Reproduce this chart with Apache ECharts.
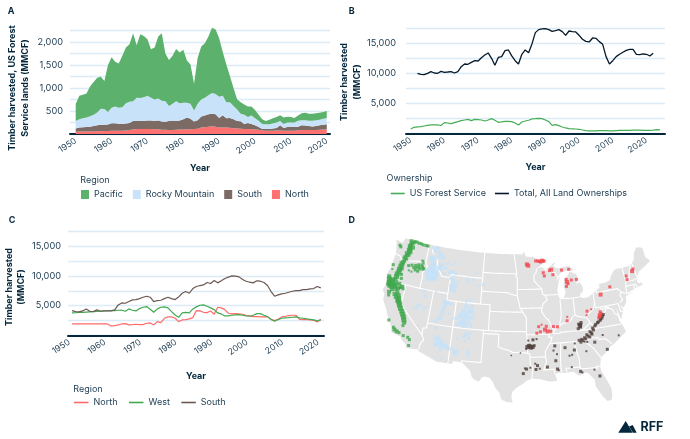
<!DOCTYPE html>
<html>
<head>
<meta charset="utf-8">
<style>html,body{margin:0;padding:0;background:#fff}#main{width:690px;height:439px}</style>
<script src="https://cdn.jsdelivr.net/npm/echarts@6/dist/echarts.min.js"></script>
</head>
<body>
<div id="main"></div>
<script>
// panel A, US Forest Service harvest by region, 1950-2020 (MMCF)
var yearsA = [];
for (var y = 1950; y <= 2020; y++) yearsA.push(y);
var pacific = [370,510,515,520,645,710,750,695,605,1020,
  1100,970,960,1120,1210,1250,1480,1140,1390,1330,
  1230,1050,1130,1350,1470,1040,1000,1040,1140,1100,
  1150,920,850,580,990,1150,1180,1280,1420,1400,
  1270,950,820,570,390,225,250,220,230,200,
  180,130,100,70,100,110,120,130,140,125,
  120,100,110,150,160,150,150,150,150,150,150];
var rockyMountain = [160,180,195,210,225,245,280,350,345,275,
  335,365,345,360,440,460,430,500,500,520,
  535,495,470,475,450,445,330,375,425,375,
  360,320,330,240,360,370,390,410,450,440,
  460,420,350,340,290,245,165,205,130,185,
  150,140,110,100,100,110,120,90,90,100,
  95,100,130,110,115,115,125,125,120,130,140];
var southA = [70,88,92,96,104,117,130,138,136,139,
  165,165,155,148,152,155,180,180,172,172,
  185,185,175,190,175,175,195,200,190,195,
  220,255,225,160,185,240,255,275,270,270,
  210,270,200,215,195,165,160,105,130,110,
  90,60,35,40,40,48,55,115,62,82,
  85,78,80,105,100,90,80,87,98,102,110];
var northA = [50,52,53,54,56,58,60,62,64,66,
  70,70,70,72,78,85,100,110,108,108,
  110,110,105,105,95,90,85,85,95,100,
  100,105,105,110,115,140,145,155,170,160,
  140,140,140,135,125,120,115,110,110,105,
  100,90,75,70,70,72,75,75,68,68,
  70,72,80,85,85,85,85,88,92,98,100];

// panel B, all ownerships 1952-2022 and Forest Service 1950-2024
var yearsTotal = [];
for (var y = 1952; y <= 2022; y++) yearsTotal.push(y);
var totalAll = [10000,9830,9780,10000,10280,10050,10000,10330,10170,10220,
  10280,10050,10280,11100,11550,11500,11830,12100,12050,12600,
  13050,13390,12500,11330,12650,12780,13780,13890,12900,12100,
  11550,13170,13890,13440,14900,16780,17280,17390,17440,17280,
  17000,17110,17280,16940,16330,17050,16940,16890,16330,15670,
  15330,15220,15890,15830,15280,14830,12780,11550,12100,12780,
  13170,13500,13830,14000,14000,13170,13110,13220,13170,12890,13330];
var yearsFs = [];
for (var y = 1950; y <= 2024; y++) yearsFs.push(y);
var forestService = [720,1000,1055,1110,1220,1330,1390,1420,1400,1300,
  1780,1720,1610,1780,1940,2110,2220,2330,2110,2330,
  2280,2220,2050,2220,2440,2170,1830,1890,2000,2000,
  1940,1720,1390,1890,2050,2170,2390,2440,2500,2440,
  2220,1940,1330,1440,1280,1050,890,780,750,720,
  670,555,440,390,390,420,440,440,440,420,
  420,460,500,500,500,500,520,540,520,500,
  480,500,540,600,560];

// panel C, all ownerships by region, 1952-2022
var yearsC = yearsTotal;
var northC = [1910,1910,1910,1910,1910,1910,1910,1910,1910,1910,1910,
  1580,1630,1750,1910,1970,1750,1800,1860,1800,1800,2030,2080,1750,2310,2140,
  2870,3100,3100,2870,2310,2590,2650,2760,2980,4170,4110,3880,3830,4110,
  3550,4730,4620,4330,3720,3600,3660,3600,3550,3380,3270,3150,3150,3100,3100,
  3150,2700,2480,2700,3100,3210,3320,3380,3380,2700,2650,2650,2590,2530,2250,2650];
var westC = [3770,3800,3850,3880,3920,3960,4000,4030,4060,4100,4140,4160,4170,
  4220,4230,4050,4450,4220,4110,4500,4730,4840,4390,3880,4450,4730,4790,4620,4000,
  3430,3040,3770,3880,3770,4450,4790,5070,5120,4900,4620,4330,3770,3600,3270,3270,
  3380,3430,3490,3380,3270,3210,3380,3660,3660,3380,3150,2650,2360,2650,2870,2930,
  2980,3040,3100,2930,2870,2760,2700,2590,2420,2650];
var southC = [4170,4000,3940,4110,4450,4050,4000,4280,4050,4110,4110,4110,4280,
  5120,5460,5400,5690,5970,6020,6190,6420,6590,6420,5690,5860,5910,6190,6420,6190,6020,
  6470,7090,7380,7090,7880,8220,8390,8500,8900,8730,9230,8840,9180,9570,9800,10020,
  9970,9850,9400,9120,8950,8840,9180,9120,8900,8390,7380,6590,6810,6980,7090,7260,
  7430,7540,7540,7710,7710,7830,7880,8220,7990];

// tick values
var xTicks = [1950,1960,1970,1980,1990,2000,2010,2020];
var yLabelsA = [500,1000,1500,2000];
var yLinesA = [0,250,500,750,1000,1250,1500,1750,2000,2250];
var yLabelsBC = [5000,10000,15000];
var yLinesBC = [0,2500,5000,7500,10000,12500,15000,17500];

// panel D, coast and national border of the lower 48, lon/lat
var usOutline = [[-124.7,48.4],[-123.2,48.15],[-122.8,49],[-95.15,49],[-95.15,49.38],[-94.8,49.3],[-94.6,48.7],[-93.8,48.55],[-92.9,48.6],[-92,48.3],[-91.4,48.07],[-90.8,48.2],[-89.6,48],[-90.9,47.3],[-92.1,46.75],[-91,46.9],[-90.4,46.55],[-89,46.9],[-88.4,47.4],[-87.8,47.45],[-88.4,46.9],[-87.4,46.5],[-86,46.65],[-85,46.75],[-84.5,46.45],[-84.1,46.2],[-84,46],[-84.7,45.95],[-85.5,46.05],[-86.5,45.85],[-87,45.7],[-87.6,45.1],[-88,44.55],[-87,45.3],[-87.5,44.4],[-87.8,43.5],[-87.9,43],[-87.8,42.3],[-87.5,41.7],[-87,41.7],[-86.5,42.1],[-86.2,42.8],[-86.5,43.6],[-86.2,44.7],[-85.6,45],[-85,45.7],[-84.7,45.78],[-83.5,45.35],[-83.3,44.9],[-83.4,44.2],[-83.9,43.7],[-83,44.05],[-82.5,43.3],[-82.5,42.6],[-83.1,42.2],[-83.4,41.75],[-82.7,41.5],[-81.7,41.5],[-80.5,42],[-79,42.7],[-78.9,43],[-79.05,43.27],[-77.5,43.3],[-76.5,43.5],[-76.2,44],[-75.3,44.85],[-74.7,45],[-71.5,45],[-71.1,45.3],[-70.8,45.4],[-70.3,45.9],[-70,46.7],[-69.2,47.45],[-68.3,47.35],[-67.8,47.07],[-67.8,45.7],[-67,44.85],[-68.5,44.3],[-70,43.75],[-70.7,43.05],[-70.8,42.6],[-71,42.3],[-70.6,41.95],[-70,42.05],[-70,41.65],[-71.2,41.5],[-72,41.3],[-73.6,41],[-74,40.75],[-72,41],[-74,40.55],[-74.1,39.7],[-74.9,38.95],[-75.5,39.45],[-75.1,38.6],[-75.9,37.2],[-76.2,38.3],[-76.4,39.2],[-76.4,38],[-76.3,37],[-75.95,36.6],[-75.5,35.25],[-76.6,34.65],[-77.9,33.9],[-79,33.4],[-80,32.6],[-81,32],[-81.4,30.7],[-81.3,29.8],[-80.6,28.4],[-80.05,26.9],[-80.15,25.7],[-80.4,25.2],[-81.1,25.15],[-81.8,26.1],[-82.7,27.7],[-82.7,28.7],[-83.7,29.9],[-84.3,30.05],[-85.3,29.65],[-86.3,30.38],[-87.5,30.3],[-88,30.3],[-89,30.4],[-89.6,30.2],[-89.3,29.2],[-90.2,29.1],[-91.3,29.3],[-92.2,29.55],[-93.8,29.7],[-94.7,29.4],[-95.4,28.9],[-96.5,28.3],[-97.2,27.7],[-97.4,26.9],[-97.15,25.95],[-98.2,26.05],[-99.1,26.4],[-99.5,27.5],[-100.3,28.3],[-100.7,29.1],[-101.4,29.75],[-102.3,29.88],[-102.7,29.7],[-103.15,28.98],[-104,29.3],[-104.5,29.65],[-104.9,30.6],[-106.5,31.75],[-108.2,31.78],[-108.2,31.33],[-111.07,31.33],[-114.8,32.5],[-114.72,32.72],[-117.12,32.53],[-117.3,33.1],[-118.4,33.75],[-118.5,34.03],[-119.2,34.15],[-120.5,34.45],[-120.65,35.15],[-121.9,36.6],[-122.5,37.5],[-122.9,38],[-123.7,38.9],[-123.8,39.8],[-124.4,40.4],[-124.1,41],[-124.2,42],[-124.5,42.85],[-124.1,44],[-123.95,46.2],[-124.1,46.9],[-124.7,48.4]];

// state borders, lon/lat
var stateBorders = [
  [[-117.04,49],[-117.04,46.42],[-116.92,46],[-116.46,45.6],[-116.85,44.95],[-117.2,44.4],[-117.03,43.8],[-117.03,42]],
  [[-124,46.25],[-122.9,46.1],[-122.3,45.55],[-121.2,45.65],[-119.3,45.93],[-118.98,46],[-116.92,46]],
  [[-124.2,42],[-111.05,42]],
  [[-120,42],[-120,39],[-114.63,35],[-114.14,34.3],[-114.5,33.9],[-114.72,33.4],[-114.72,32.72]],
  [[-114.05,42],[-114.05,36.2],[-114.75,36.1],[-114.63,35]],
  [[-116.05,49],[-116.05,48],[-114.5,46.7],[-114.35,45.5],[-113.45,45.05],[-113,44.5],[-111.05,44.5]],
  [[-111.05,45],[-111.05,41],[-104.05,41]],
  [[-111.05,45],[-104.05,45]],
  [[-109.05,41],[-109.05,31.33]],
  [[-114.05,37],[-94.62,37]],
  [[-104.05,41],[-102.05,41],[-102.05,37]],
  [[-103,37],[-103.04,32],[-106.6,32],[-106.5,31.75]],
  [[-103,36.5],[-100,36.5],[-100,34.56],[-99.2,34.3],[-98.1,34.1],[-97.2,33.75],[-96,33.8],[-94.48,33.64]],
  [[-104.05,49],[-104.05,41]],
  [[-104.05,45.94],[-96.56,45.94]],
  [[-104.05,43],[-98.5,43],[-97.9,42.8],[-96.45,42.5]],
  [[-102.05,40],[-95.3,40]],
  [[-97.23,49],[-96.8,47],[-96.56,45.94],[-96.85,45.6],[-96.45,45.3],[-96.45,42.5],[-96.1,41.5],[-95.85,40.6],[-95.3,40],[-94.6,39.1],[-94.62,36.5]],
  [[-96.45,43.5],[-91.22,43.5]],
  [[-95.77,40.58],[-91.73,40.6],[-91.42,40.38]],
  [[-92.1,46.75],[-92.3,46.1],[-92.85,45.6],[-92.75,44.75],[-91.22,43.5],[-91.1,42.7],[-90.64,42.5],[-90.15,41.8],[-91.1,41.2],[-91.42,40.38],[-91.5,40],[-90.7,39],[-90.2,38.7],[-89.5,37.3],[-89.15,37],[-89.5,36.5]],
  [[-94.62,36.5],[-90.15,36.5],[-90.37,36],[-89.7,36],[-90.1,35.1],[-90.6,34.6],[-91.1,33.9],[-91.17,33],[-91,32.3],[-91.6,31],[-89.75,31],[-89.6,30.2]],
  [[-94.62,36.5],[-94.43,35.4],[-94.48,33.64],[-94.04,33.55],[-94.04,32],[-93.55,31.2],[-93.8,29.7]],
  [[-94.04,33.02],[-91.17,33]],
  [[-88.15,35],[-88.47,31.9],[-88.4,30.3]],
  [[-90.3,35],[-83.1,35],[-83.35,34.7],[-82,33.5],[-81.4,32.6],[-81,32]],
  [[-89.5,36.5],[-88.05,36.5],[-88.05,36.65],[-83.68,36.6],[-81.68,36.59],[-75.9,36.55]],
  [[-81.68,36.59],[-82,36.1],[-83.1,35.75],[-84.32,34.99]],
  [[-85.6,35],[-85.18,32.87],[-85,32.3],[-85,31],[-84.86,30.7],[-82.2,30.57],[-82.05,30.36],[-82,30.75],[-81.45,30.7]],
  [[-87.6,31],[-85,31]],
  [[-87.6,31],[-87.45,30.4]],
  [[-83.1,35],[-82.3,35.2],[-81,35.15],[-80.8,34.82],[-79.67,34.8],[-78.55,33.86]],
  [[-89.15,37],[-88.1,37.5],[-87.5,37.95],[-86.5,38],[-85.8,38.25],[-85.4,38.73],[-84.8,39.1],[-84.3,38.8],[-83.3,38.6],[-82.6,38.42],[-82,39],[-81.2,39.4],[-80.75,40],[-80.52,40.64]],
  [[-87.53,41.7],[-87.53,39.3],[-88.05,37.8]],
  [[-84.8,41.7],[-84.8,39.1]],
  [[-86.8,41.76],[-84.8,41.7],[-83.45,41.73]],
  [[-90.64,42.5],[-87.8,42.5]],
  [[-90.4,46.55],[-88.1,45.9],[-87.6,45.1]],
  [[-80.52,42],[-80.52,39.72],[-75.8,39.72]],
  [[-79.76,42.27],[-79.76,42],[-75.35,42],[-74.7,41.36],[-75.1,40.9],[-74.75,40.2],[-75.4,39.8]],
  [[-79.48,39.72],[-79.48,39.2],[-78.4,39.6],[-77.75,39.3],[-77.05,38.85],[-76.95,38.3],[-76.3,37.95]],
  [[-83.68,36.6],[-81.97,37.54],[-82.6,38.42]],
  [[-81.97,37.54],[-81.65,37.2],[-80.3,37.5],[-79.3,38.4],[-78.35,39.4],[-77.75,39.3]],
  [[-75.8,39.72],[-75.7,38.46],[-75.05,38.45]],
  [[-74.7,41.36],[-73.9,41]],
  [[-73.65,41],[-73.5,42.05],[-73.27,42.75],[-73.35,45]],
  [[-72.55,42.73],[-72.1,44],[-71.5,45]],
  [[-73.27,42.75],[-71.3,42.7],[-70.8,42.87]],
  [[-73.5,42.05],[-71.38,42.02],[-71.2,41.5]],
  [[-71.8,42.02],[-71.85,41.32]],
  [[-70.7,43.07],[-71.05,45.3]]
];

// national forest patches by region, lon, lat, size
var pacificForests = [[-123.6,47.7,3],[-123.3,47.5,3],[-121.3,48.8,4],[-121,48.5,4],[-120.6,48.7,3],[-121.2,48.2,4],[-120.6,47.9,4],[-121.4,48,4],[-121.2,47.7,4],[-121.4,47.4,4],[-120.9,47.1,4],[-121.2,47.1,4],[-121.6,46.8,4],[-121,46.6,3],[-121.4,46.5,4],[-121.7,46.2,4],[-121.3,45.9,3],[-121.8,45.9,4],[-121.6,45.5,3],[-120.5,48.9,3],[-120,48.9,3],[-119.5,48.8,3],[-119,48.8,3],[-118.5,48.7,3],[-117.8,48.7,3],[-117.3,48.7,3],[-120.9,47.5,3],[-118.2,45.2,3],[-118.7,45,3],[-119.3,44.9,3],[-118.3,44.5,3],[-117.5,45.3,3],[-117.3,45,3],[-119.6,44.2,2],[-120.2,44.3,2],[-117.7,46.2,3],[-120.5,45,3],[-119.8,45.2,3],[-119,45.3,3],[-118.4,45.5,3],[-117.7,45.6,3],[-117.1,45.1,3],[-118.9,44.6,3],[-118,44.9,3],[-117.4,45.9,2],[-121.9,45.3,4],[-122,45,5],[-122.1,44.6,5],[-121.8,44.3,4],[-122.2,44.1,5],[-122.2,43.7,5],[-122.4,43.3,5],[-122.4,42.9,5],[-122.5,42.5,4],[-121.5,43.4,3],[-121.3,42.8,3],[-123.8,44.5,3],[-123.7,43.8,2],[-123.9,42.6,4],[-123.7,42.2,5],[-123.3,42,5],[-123,42.2,5],[-122.2,41.9,5],[-121.4,41.9,4],[-120.7,41.6,4],[-123.5,41.7,5],[-123.1,41.5,5],[-122.4,41.5,5],[-122.8,41.2,5],[-123.3,41.2,4],[-123.6,41.4,4],[-121.4,41.2,4],[-122.5,40.8,4],[-123,40.3,4],[-122.9,39.8,3],[-122.1,41.3,4],[-121.7,41,4],[-121,41.4,3],[-120.4,41.3,3],[-121.3,40.5,4],[-121.8,40.2,4],[-121.4,39.8,4],[-121,40.1,5],[-120.8,39.7,5],[-120.9,39.3,4],[-120.6,39.3,5],[-120.4,39,5],[-120.2,38.7,5],[-119.9,38.3,5],[-119.5,37.9,5],[-119.2,37.5,5],[-118.9,37.1,5],[-118.7,36.7,5],[-118.5,36.3,4],[-118.6,35.8,3],[-120.3,35.2,3],[-120,34.9,4],[-119.5,34.7,4],[-119,34.6,3],[-121.5,36.1,3],[-118.1,34.3,3],[-117.2,34.2,3],[-116.8,33.9,3],[-116.7,33,3]];
var rockyForests = [[-116,48.6,3],[-115.5,48.2,3],[-115,48.6,4],[-114.5,48,4],[-114.2,47.5,4],[-113.7,47.8,3],[-113.3,47.4,4],[-115.9,47,4],[-115.4,47.4,3],[-115,47,3],[-115.5,46.6,5],[-115.2,46.1,5],[-115.6,45.7,5],[-114.7,45.6,4],[-115.1,45.3,5],[-116,44.9,6],[-115.4,44.8,7],[-114.9,44.5,7],[-114.4,44.9,6],[-115.8,44.4,7],[-115.3,44.2,7],[-114.4,44.1,6],[-115,44,6],[-115.6,43.9,6],[-113.8,45.7,4],[-113.5,46.2,4],[-113.3,45.6,3],[-112.5,45.9,3],[-112.5,44.9,3],[-112.2,46.6,3],[-111,46.5,2],[-110.6,47,2],[-109.5,46.8,2],[-105.5,45.7,2],[-106,44.6,2],[-111.3,45.3,4],[-110.7,45.5,3],[-110,45.2,3],[-110.8,44.4,4],[-110.3,44.2,3],[-110.2,43.6,4],[-110.6,43.2,4],[-110.3,43.1,4],[-110.4,42.7,4],[-109.7,42.6,3],[-109.5,43.2,3],[-109.3,44,3],[-107.3,44.6,3],[-106.9,44.2,2],[-104.9,43.8,2],[-103.8,44,3],[-106.3,41.4,3],[-107,41.1,2],[-116,41.7,3],[-115.5,41,3],[-116.2,39.5,3],[-116.7,39.2,3],[-117.3,38.8,2],[-116.8,38.6,2],[-115.3,39.2,3],[-115.2,38.8,2],[-114.6,39.5,2],[-115.8,36.3,2],[-113.5,41.9,2],[-112.1,41.5,2],[-111.4,40.7,4],[-110.8,40.6,4],[-111.2,40.2,3],[-111.4,39.7,4],[-111.5,39,4],[-111.8,38.5,3],[-111.6,38,3],[-112.2,38,3],[-112.5,37.5,3],[-113,37.6,2],[-110,40.5,3],[-110.2,38.9,2],[-109.3,38.3,2],[-108.7,38.4,3],[-108,38.7,4],[-107.8,39.1,4],[-107.3,39.7,5],[-106.9,38.9,5],[-106.6,39.3,5],[-106,39.8,5],[-106.9,40.4,4],[-105.8,40.4,4],[-105.5,39.6,4],[-105.6,38.8,4],[-106.4,38.5,5],[-107.1,38.3,5],[-107.5,37.9,5],[-105.9,37.9,3],[-107.8,37.6,5],[-106.8,37.5,5],[-105.5,37.5,3],[-108.4,37.5,3],[-105.7,36.3,3],[-106.4,36.1,3],[-106.7,35.7,3],[-107.8,35.3,2],[-105.7,35.6,3],[-106.4,35,2],[-105.7,33.4,3],[-105.6,32.9,3],[-107.6,33.4,3],[-108.1,33.4,3],[-107.9,32.9,3],[-108.3,33,3],[-108.5,33.7,3],[-109.3,33.6,4],[-109.8,33.9,4],[-110,33.8,4],[-110.4,34,5],[-110.8,34.3,5],[-111,34,5],[-111.4,34.7,5],[-111.6,35.1,4],[-111.8,34.1,4],[-111.9,33.8,3],[-112.2,34.9,3],[-112.2,36.5,3],[-110.8,33.3,3],[-110.4,31.9,2],[-109.3,31.8,2]];
var southForests = [[-84.3,37.6,3],[-84.1,37.3,4],[-84,37.1,3],[-83.9,37.5,3],[-83.8,37.8,3],[-84.5,36.9,3],[-80.6,37.4,3],[-80.4,37.5,3],[-80,37.7,3],[-79.9,37.9,3],[-79.6,38,3],[-79.4,38.3,3],[-79.2,38.5,3],[-81.2,37,3],[-81,37.2,3],[-81.7,36.7,3],[-81.6,36.4,3],[-82.3,36.2,3],[-82.1,36,3],[-83,35.8,3],[-82.8,35.6,3],[-83.5,35.4,3],[-83.3,35.2,3],[-84.1,35.2,3],[-83.9,35,3],[-84.3,34.8,3],[-84.6,35.1,3],[-83.6,34.8,2],[-82.5,35.4,3],[-82,35.8,3],[-83.1,34.7,2],[-81.7,34.5,3],[-80,35.4,2],[-79.6,33.1,3],[-77,34.9,2],[-83.5,33.3,2],[-85.5,34.7,2],[-85.7,33.7,3],[-86.2,33,2],[-87.4,34.2,3],[-86.7,32.9,2],[-86.5,31.1,2],[-89.3,34.6,3],[-89.6,33.9,2],[-89,33.3,2],[-89.3,32.3,3],[-90.9,31.4,3],[-89.1,31,3],[-88.9,30.8,2],[-92.7,31.7,3],[-93,31.1,3],[-92.3,31.2,2],[-93.1,32,2],[-94.7,31.2,3],[-94,31.4,2],[-95.3,30.5,3],[-95,31.3,2],[-94.5,34.6,4],[-94.2,34.8,4],[-94,34.7,4],[-93.8,34.5,4],[-93.5,34.6,4],[-93.2,34.8,3],[-94.3,35.6,2],[-93.4,35.7,3],[-92.7,35.8,2],[-94.7,34.3,2],[-97.5,33.3,1.5],[-95.8,33.7,1.5],[-85,30.3,3],[-84.7,30.1,2],[-82.5,30.3,2],[-81.7,29.2,3]];
var northForests = [[-91.8,47.9,3],[-91.5,47.8,3],[-92.3,47.9,3],[-91.2,47.7,3],[-90.9,47.9,4],[-90.6,47.9,3],[-90.4,47.8,3],[-94.3,47.4,4],[-94,47.2,4],[-90.7,46,3],[-90.5,45.5,3],[-88.6,45.6,3],[-88.9,46.4,4],[-89.3,46.3,3],[-86.6,46.2,3],[-85,46.2,3],[-85.7,44.3,4],[-85.5,44,3],[-85.8,44.7,3],[-85.9,43.6,3],[-83.6,44.5,3],[-84.7,44.5,3],[-76.8,42.5,3],[-72.9,43.6,3],[-72.9,43,3],[-71.4,44.1,4],[-71.1,44.4,3],[-79,41.6,4],[-79.7,39,3],[-79.6,38.7,3],[-79.9,38.5,4],[-80,38.3,3],[-80.2,38.1,3],[-82.3,39.4,3],[-81.4,39.6,2],[-82.5,38.8,2],[-86.4,38.9,2],[-86.5,38.3,3],[-88.5,37.5,3],[-89.3,37.6,3],[-91,37.2,4],[-91.9,36.9,3],[-90.7,37.7,3],[-92.2,37.7,3],[-92.6,36.7,3],[-91.6,38,2],[-90.5,36.9,4],[-89.9,36.9,3]];

// Albers conic for the map, standard parallels 29.5 and 45.5
var rad = Math.PI / 180;
var n = (Math.sin(29.5 * rad) + Math.sin(45.5 * rad)) / 2;
var c = Math.pow(Math.cos(29.5 * rad), 2) + 2 * n * Math.sin(29.5 * rad);
var rho0 = Math.sqrt(c - 2 * n * Math.sin(37.5 * rad)) / n;
function albers(p) {
  var rho = Math.sqrt(c - 2 * n * Math.sin(p[1] * rad)) / n;
  var th = n * (p[0] + 96) * rad;
  return [rho * Math.sin(th), -(rho0 - rho * Math.cos(th))];
}
function albersInv(p) {
  var x = p[0], yy = rho0 + p[1];
  var rho = Math.sqrt(x * x + yy * yy);
  var th = Math.atan2(x, yy);
  return [th / n / rad - 96, Math.asin((c - rho * rho * n * n) / (2 * n)) / rad];
}
// break long edges so straight borders curve under the projection
function densify(line) {
  var out = [];
  for (var i = 0; i < line.length - 1; i++) {
    var a = line[i], b = line[i + 1];
    var k = Math.max(1, Math.ceil(Math.abs(b[0] - a[0])));
    for (var j = 0; j < k; j++) {
      out.push([a[0] + (b[0] - a[0]) * j / k, a[1] + (b[1] - a[1]) * j / k]);
    }
  }
  out.push(line[line.length - 1]);
  return out;
}

echarts.registerMap('lower48', {
  geoJSON: {
    type: 'FeatureCollection',
    features: [{
      type: 'Feature',
      properties: { name: 'US' },
      geometry: { type: 'Polygon', coordinates: [densify(usOutline)] }
    }]
  }
});

var navy = '#04273C';
var textColor = '#1B3A50';
var gridColor = '#DCEBF8';
var font = 'Inter';
var colors = { pacific: '#5CB26C', rocky: '#C8E3F9', south: '#7C6A64', north: '#FF7070' };
var lineColors = { green: '#46AD57', black: '#04192B', red: '#FF6B6B', west: '#43A851', brown: '#6C5952' };

function pairs(xs, ys) {
  return xs.map(function (x, i) { return [x, ys[i]]; });
}
function xAxis(gridIndex, min, max, nameGap, labelValues, shift) {
  return {
    type: 'value', gridIndex: gridIndex, min: min, max: max,
    name: 'Year', nameLocation: 'middle', nameGap: nameGap,
    nameTextStyle: { color: navy, fontFamily: font, fontSize: 9, fontWeight: 'bold' },
    axisLine: { show: true, onZero: false, lineStyle: { color: navy, width: 2 } },
    axisTick: { show: false },
    splitLine: { show: false },
    axisLabel: {
      customValues: labelValues, rotate: 33, margin: 6,
      color: textColor, fontFamily: font, fontSize: 8.6,
      formatter: function (v) { return String(Math.round(v - shift)); }
    }
  };
}
function yAxis(gridIndex, max, labels, lines, margin) {
  return {
    type: 'value', gridIndex: gridIndex, min: 0, max: max,
    axisLine: { show: false },
    axisTick: { show: false, customValues: lines },
    splitLine: { show: true, lineStyle: { color: gridColor, width: 1.4 } },
    axisLabel: {
      customValues: labels, margin: margin,
      color: textColor, fontFamily: font, fontSize: 9.2,
      formatter: function (v) { return v.toLocaleString('en-US'); }
    }
  };
}
// value first so the stack runs on y, the x axis being a value axis too
function area(name, xs, ys, color) {
  return {
    name: name, type: 'line', xAxisIndex: 0, yAxisIndex: 0, stack: 'regions',
    data: ys.map(function (v, i) { return [v, xs[i]]; }),
    encode: { x: 1, y: 0 }, showSymbol: false, color: color,
    lineStyle: { width: 0 }, areaStyle: { color: color, opacity: 1 }, itemStyle: { color: color }
  };
}
function line(name, idx, xs, ys, color, width) {
  return {
    name: name, type: 'line', xAxisIndex: idx, yAxisIndex: idx,
    data: pairs(xs, ys), showSymbol: false, color: color,
    lineStyle: { color: color, width: width }, itemStyle: { color: color }
  };
}
function patches(name, points, color) {
  return {
    name: name, type: 'scatter', coordinateSystem: 'geo', geoIndex: 0, data: points,
    symbol: 'rect', symbolSize: function (v) { return v[2]; },
    itemStyle: { color: color }, silent: true
  };
}
function legend(left, top, names, w, h, gap) {
  return {
    left: left, top: top, itemWidth: w, itemHeight: h, itemGap: gap, icon: 'rect',
    selectedMode: false, padding: 0, data: names,
    textStyle: { color: textColor, fontFamily: font, fontSize: 9 }
  };
}
function label(x, y, text, size, weight, rotated) {
  return {
    type: 'text', x: x, y: y, rotation: rotated ? Math.PI / 2 : 0, silent: true,
    style: {
      text: text, fill: weight === 'bold' ? navy : textColor, align: 'center', verticalAlign: 'middle',
      font: weight + ' ' + size + 'px ' + font, lineHeight: 12.5
    }
  };
}

// panel C tick labels sit slightly off the data years in the original
var shiftC = 1.25;

var option = {
  animation: false,
  backgroundColor: '#fff',
  grid: [
    { left: 70, top: 26.8, width: 260, height: 107.2 },
    { left: 406, top: 28.3, width: 259, height: 105 },
    { left: 68, top: 231.5, width: 256, height: 103.8 }
  ],
  xAxis: [
    xAxis(0, 1948.41, 2020.9, 30, xTicks, 0),
    xAxis(1, 1948.6, 2025.5, 29.5, xTicks, 0),
    xAxis(2, 1950.87, 2022.9, 36, xTicks.map(function (v) { return v + shiftC; }), shiftC)
  ],
  yAxis: [
    yAxis(0, 2330, yLabelsA, yLinesA, 7),
    yAxis(1, 17500, yLabelsBC, yLinesBC, 10),
    yAxis(2, 17500, yLabelsBC, yLinesBC, 7)
  ],
  geo: {
    map: 'lower48', silent: true, roam: false,
    projection: { project: albers, unproject: albersInv },
    left: 382.7, top: 238.3, width: 267.5, height: 164.4,
    itemStyle: { areaColor: '#E2E2E2', borderWidth: 0 },
    label: { show: false },
    emphasis: { disabled: true }
  },
  legend: [
    legend(81, 190, ['Pacific', 'Rocky Mountain', { name: 'South', itemStyle: { color: colors.south } }, { name: 'North', itemStyle: { color: colors.north } }], 8, 9, 10),
    legend(390.7, 189, ['US Forest Service', 'Total, All Land Ownerships'], 14, 1.6, 9),
    legend(74, 398, [
      { name: 'North', itemStyle: { color: lineColors.red } },
      { name: 'West', itemStyle: { color: lineColors.west } },
      { name: 'South', itemStyle: { color: lineColors.brown } }
    ], 14.5, 1.6, 11.5)
  ],
  graphic: [
    label(11, 11, 'A', 9, 'bold'),
    label(351.7, 11, 'B', 9, 'bold'),
    label(12, 220, 'C', 9, 'bold'),
    label(351.7, 220, 'D', 9, 'bold'),
    label(19, 88, 'Timber harvested, US Forest\nService lands (MMCF)', 9, 'bold', true),
    label(351, 82, 'Timber harvested\n(MMCF)', 9, 'bold', true),
    label(15.5, 287, 'Timber harvested\n(MMCF)', 9, 'bold', true),
    label(95, 180, 'Region', 9, 'normal'),
    label(409.5, 178, 'Ownership', 9, 'normal'),
    label(88, 389, 'Region', 9, 'normal'),
    { type: 'polygon', silent: true, shape: { points: [[618.3, 432.7], [625.7, 421], [632.7, 432.7]] }, style: { fill: navy } },
    { type: 'polygon', silent: true, shape: { points: [[629, 426.5], [632.7, 425], [636.7, 432.7], [633, 432.7]] }, style: { fill: navy } },
    label(652, 427, 'RFF', 12.5, 'bold')
  ],
  series: [
    area('North', yearsA, northA, colors.north),
    area('South', yearsA, southA, colors.south),
    area('Rocky Mountain', yearsA, rockyMountain, colors.rocky),
    area('Pacific', yearsA, pacific, colors.pacific),
    line('US Forest Service', 1, yearsFs, forestService, lineColors.green, 1.2),
    line('Total, All Land Ownerships', 1, yearsTotal, totalAll, lineColors.black, 1.3),
    line('North', 2, yearsC, northC, lineColors.red, 1.2),
    line('West', 2, yearsC, westC, lineColors.west, 1.2),
    line('South', 2, yearsC, southC, lineColors.brown, 1.2),
    {
      type: 'lines', coordinateSystem: 'geo', geoIndex: 0, polyline: true, silent: true,
      data: stateBorders.map(function (b) { return { coords: densify(b) }; }),
      lineStyle: { color: '#fff', width: 1.1, opacity: 1 }
    },
    patches('Pacific forests', pacificForests, '#3FA84C'),
    patches('Rocky forests', rockyForests, '#C6E2F9'),
    patches('South forests', southForests, '#4F3E3A'),
    patches('North forests', northForests, '#F4474F')
  ]
};

var myChart = echarts.init(document.getElementById('main'));
myChart.setOption(option);
</script>
</body>
</html>
